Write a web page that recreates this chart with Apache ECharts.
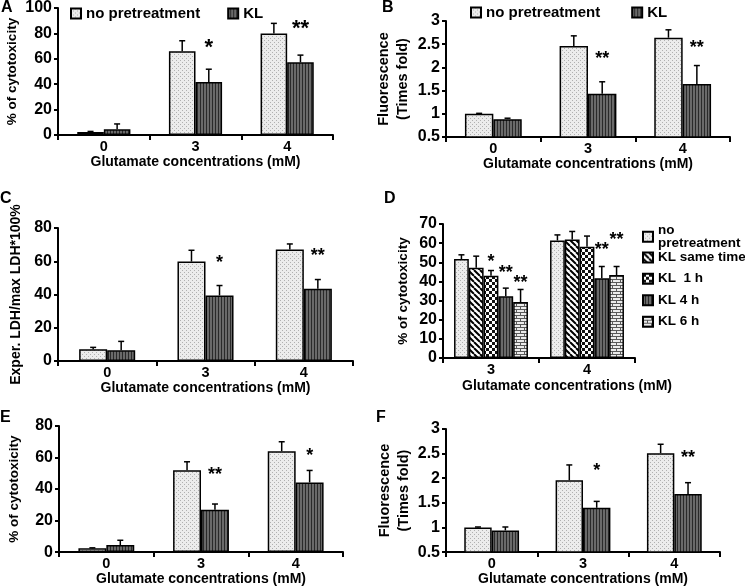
<!DOCTYPE html>
<html>
<head>
<meta charset="utf-8">
<script src="https://cdn.jsdelivr.net/npm/echarts@6/dist/echarts.min.js"></script>
<style>
html, body { margin: 0; padding: 0; background: #fff; }
#chart { width: 745px; height: 587px; }
</style>
</head>
<body>
<div id="chart"></div>
<script>
// categories
const cats = ['0', '3', '4'];
const catsD = ['3', '4'];

// A - % of cytotoxicity
const aNoPre = [2.4, 66, 80];
const aNoPreErr = [0.4, 8.2, 7.9];
const aKL = [4.5, 41.8, 57.2];
const aKLErr = [4.2, 10, 5.7];
const aSig = ['', '*', '**'];
const aSigY = [0, 72, 87];

// B - fluorescence
const bNoPre = [1.0, 2.46, 2.64];
const bNoPreErr = [0.01, 0.22, 0.17];
const bKL = [0.885, 1.43, 1.64];
const bKLErr = [0.02, 0.26, 0.4];
const bSig = ['', '**', '**'];
const bSigY = [0, 2.26, 2.51];

// C - LDH
const cNoPre = [7.0, 59.8, 67];
const cNoPreErr = [1.2, 6.8, 3.4];
const cKL = [6.4, 39.4, 43.4];
const cKLErr = [5.4, 6, 5.6];
const cSig = ['', '*', '**'];
const cSigY = [0, 61.6, 65.6];

// D - timing of KL
const dNoPre = [51.7, 61.4];
const dNoPreErr = [2.2, 2.9];
const dSame = [47.1, 61.9];
const dSameErr = [6.1, 4.2];
const d1h = [43.0, 58.1];
const d1hErr = [2.7, 5.6];
const d4h = [32.2, 41.6];
const d4hErr = [4.3, 6.2];
const d6h = [29.2, 43.3];
const d6hErr = [6.6, 4.5];
const d1hSig = ['*', ''];
const d1hSigY = [52.3, 0];
const d4hSig = ['**', '**'];
const d4hSigY = [46.3, 58.3];
const d6hSig = ['**', '**'];
const d6hSigY = [41.4, 63.7];

// E - % of cytotoxicity
const eNoPre = [2.4, 52, 64];
const eNoPreErr = [0.3, 5.3, 6];
const eKL = [4.5, 26.8, 44.2];
const eKLErr = [3, 3.7, 7.6];
const eSig = ['', '**', '*'];
const eSigY = [0, 51.3, 63.5];

// F - fluorescence
const fNoPre = [1.0, 1.96, 2.51];
const fNoPreErr = [0.01, 0.31, 0.18];
const fKL = [0.94, 1.40, 1.68];
const fKLErr = [0.07, 0.13, 0.23];
const fSig = ['', '*', '**'];
const fSigY = [0, 2.23, 2.5];

const FONT = '"Liberation Sans", Arial, sans-serif';
const xTitle = 'Glutamate concentrations (mM)';

function pattern(w, h, draw) {
    let c = document.createElement('canvas');
    c.width = w;
    c.height = h;
    draw(c.getContext('2d'));
    return { image: c, repeat: 'repeat' };
}
let dotFill = pattern(4, 4, function (ctx) {
    ctx.fillStyle = '#ececec'; ctx.fillRect(0, 0, 4, 4);
    ctx.fillStyle = '#b0b0b0'; ctx.fillRect(0, 0, 1, 1); ctx.fillRect(2, 2, 1, 1);
});
let stripeFill = pattern(3, 3, function (ctx) {
    ctx.fillStyle = '#6a6a6a'; ctx.fillRect(0, 0, 3, 3);
    ctx.fillStyle = '#2a2a2a'; ctx.fillRect(2, 0, 1, 3);
});
let diagFill = pattern(6, 6, function (ctx) {
    ctx.fillStyle = '#fff'; ctx.fillRect(0, 0, 6, 6);
    ctx.strokeStyle = '#000'; ctx.lineWidth = 2;
    ctx.beginPath();
    for (let k = -6; k <= 6; k += 6) { ctx.moveTo(k, 0); ctx.lineTo(k + 6, 6); }
    ctx.stroke();
});
let checkFill = pattern(6, 6, function (ctx) {
    ctx.fillStyle = '#fff'; ctx.fillRect(0, 0, 6, 6);
    ctx.fillStyle = '#111'; ctx.fillRect(0, 0, 3, 3); ctx.fillRect(3, 3, 3, 3);
});
let brickFill = pattern(8, 6, function (ctx) {
    ctx.fillStyle = '#ececec'; ctx.fillRect(0, 0, 8, 6);
    ctx.fillStyle = '#5a5a5a';
    ctx.fillRect(0, 0, 8, 1); ctx.fillRect(0, 3, 8, 1);
    ctx.fillRect(0, 0, 1, 3); ctx.fillRect(4, 3, 1, 3);
});

function bar(name, data, fill, g, gap) {
    return {
        type: 'bar', name: name, data: data,
        xAxisIndex: g, yAxisIndex: g,
        barGap: '0%', barCategoryGap: (gap * 100) + '%',
        itemStyle: { color: fill, borderColor: '#000', borderWidth: 1.5 },
        emphasis: { disabled: true },
        z: 2
    };
}

function errBars(vals, errs, g, pos, n, gap) {
    return {
        type: 'custom', xAxisIndex: g, yAxisIndex: g, z: 3, silent: true,
        data: vals.map(function (v, i) { return [i, v, errs[i]]; }),
        renderItem: function (params, api) {
            let i = api.value(0), v = api.value(1), e = api.value(2);
            let p0 = api.coord([i, v]), p1 = api.coord([i, v + e]);
            let bw = api.size([1, 0])[0] * (1 - gap) / n;
            let cx = p0[0] + (pos - (n - 1) / 2) * bw;
            let st = { stroke: '#000', lineWidth: 1.5 };
            return {
                type: 'group', children: [
                    { type: 'line', shape: { x1: cx, y1: p0[1], x2: cx, y2: p1[1] }, style: st },
                    { type: 'line', shape: { x1: cx - 3, y1: p1[1], x2: cx + 3, y2: p1[1] }, style: st }
                ]
            };
        }
    };
}

function stars(labels, ys, g, pos, n, gap, size) {
    return {
        type: 'custom', xAxisIndex: g, yAxisIndex: g, z: 4, silent: true,
        data: ys.map(function (y, i) { return [i, y]; }),
        renderItem: function (params, api) {
            let s = labels[params.dataIndex];
            if (!s) return null;
            let p = api.coord([api.value(0), api.value(1)]);
            let bw = api.size([1, 0])[0] * (1 - gap) / n;
            let cx = p[0] + (pos - (n - 1) / 2) * bw;
            return {
                type: 'text', x: cx, y: p[1] + size * 0.22,
                style: { text: s, fill: '#000', font: 'bold ' + size + 'px ' + FONT, align: 'center', verticalAlign: 'middle' }
            };
        }
    };
}

function xAx(g, data, gap, shift) {
    return {
        type: 'category', gridIndex: g, data: data,
        axisLine: { lineStyle: { color: '#000', width: 2 } },
        axisTick: { show: true, length: 5, lineStyle: { color: '#000', width: 2 } },
        axisLabel: { color: '#000', fontWeight: 'bold', fontSize: 14.5, fontFamily: FONT, margin: 4 },
        name: xTitle, nameLocation: 'middle', nameGap: gap,
        nameTextStyle: { color: '#000', fontWeight: 'bold', fontSize: 14, fontFamily: FONT, padding: [0, 0, 0, shift || 0] }
    };
}

function yAx(g, min, max, interval, name, gap, size) {
    return {
        type: 'value', gridIndex: g, min: min, max: max, interval: interval,
        axisLine: { show: true, lineStyle: { color: '#000', width: 2 } },
        axisTick: { show: true, length: 4, lineStyle: { color: '#000', width: 2 } },
        splitLine: { show: false },
        axisLabel: { color: '#000', fontWeight: 'bold', fontSize: 16, fontFamily: FONT, margin: 6 },
        name: name, nameLocation: 'middle', nameGap: gap,
        nameTextStyle: { color: '#000', fontWeight: 'bold', fontSize: size, fontFamily: FONT, lineHeight: size + 4 }
    };
}

function letter(t, x, y) {
    return {
        type: 'text', x: x, y: y,
        style: { text: t, fill: '#000', font: 'bold 16px ' + FONT, verticalAlign: 'middle' }
    };
}

const gapA = 0.42, gapB = 0.4, gapC = 0.43, gapD = 0.23, gapE = 0.41, gapF = 0.4;

let legendText = { color: '#000', fontWeight: 'bold', fontFamily: FONT };

let option = {
    backgroundColor: '#fff',
    animation: false,
    graphic: [
        letter('A', 1, 8), letter('B', 382, 8),
        letter('C', 0, 199), letter('D', 384, 199),
        letter('E', 0, 418), letter('F', 376, 418)
    ],
    legend: [
        {
            left: 65, top: 1, itemWidth: 10, itemHeight: 10, itemGap: 27, icon: 'rect', selectedMode: false,
            data: ['no pretreatment', 'KL'],
            textStyle: Object.assign({ fontSize: 15 }, legendText)
        },
        {
            left: 465, top: 0, itemWidth: 10, itemHeight: 10, itemGap: 31, icon: 'rect', selectedMode: false,
            data: ['no pretreatment', 'KL'],
            textStyle: Object.assign({ fontSize: 15 }, legendText)
        },
        {
            orient: 'vertical', left: 637, top: 218, itemWidth: 10, itemHeight: 10, itemGap: 0, icon: 'rect', selectedMode: false,
            data: ['no pretreatment', 'KL same time'],
            formatter: function (name) { return name === 'no pretreatment' ? 'no\npretreatment' : name; },
            textStyle: Object.assign({ fontSize: 13.5, lineHeight: 13.5 }, legendText)
        },
        {
            orient: 'vertical', left: 637, top: 263, itemWidth: 10, itemHeight: 10, itemGap: 0, icon: 'rect', selectedMode: false,
            data: ['KL  1 h', 'KL 4 h', 'KL 6 h'],
            textStyle: Object.assign({ fontSize: 13.5, lineHeight: 21.5 }, legendText)
        }
    ],
    grid: [
        { left: 58, top: 8, width: 275, height: 127 },
        { left: 446, top: 21, width: 284, height: 116 },
        { left: 58, top: 228, width: 295, height: 133 },
        { left: 443, top: 224, width: 192, height: 134 },
        { left: 59, top: 426, width: 284, height: 131 },
        { left: 446, top: 429, width: 274, height: 124 }
    ],
    xAxis: [
        xAx(0, cats, 20),
        xAx(1, cats, 17),
        xAx(2, cats, 19),
        xAx(3, catsD, 21, 56),
        xAx(4, cats, 13),
        xAx(5, cats, 18)
    ],
    yAxis: [
        yAx(0, 0, 100, 20, '% of cytotoxicity', 35, 13.5),
        yAx(1, 0.5, 3, 0.5, 'Fluorescence\n(Times fold)', 34, 14.5),
        yAx(2, 0, 80, 20, 'Exper. LDH/max LDH*100%', 33, 14),
        yAx(3, 0, 70, 10, '% of cytotoxicity', 31, 13.5),
        yAx(4, 0, 80, 20, '% of cytotoxicity', 36, 13.5),
        yAx(5, 0.5, 3, 0.5, 'Fluorescence\n(Times fold)', 33, 14.5)
    ],
    series: [
        // A
        bar('no pretreatment', aNoPre, dotFill, 0, gapA),
        bar('KL', aKL, stripeFill, 0, gapA),
        errBars(aNoPre, aNoPreErr, 0, 0, 2, gapA),
        errBars(aKL, aKLErr, 0, 1, 2, gapA),
        stars(aSig, aSigY, 0, 1, 2, gapA, 22),
        // B
        bar('no pretreatment', bNoPre, dotFill, 1, gapB),
        bar('KL', bKL, stripeFill, 1, gapB),
        errBars(bNoPre, bNoPreErr, 1, 0, 2, gapB),
        errBars(bKL, bKLErr, 1, 1, 2, gapB),
        stars(bSig, bSigY, 1, 1, 2, gapB, 18),
        // C
        bar('no pretreatment', cNoPre, dotFill, 2, gapC),
        bar('KL', cKL, stripeFill, 2, gapC),
        errBars(cNoPre, cNoPreErr, 2, 0, 2, gapC),
        errBars(cKL, cKLErr, 2, 1, 2, gapC),
        stars(cSig, cSigY, 2, 1, 2, gapC, 18),
        // D
        bar('no pretreatment', dNoPre, dotFill, 3, gapD),
        bar('KL same time', dSame, diagFill, 3, gapD),
        bar('KL  1 h', d1h, checkFill, 3, gapD),
        bar('KL 4 h', d4h, stripeFill, 3, gapD),
        bar('KL 6 h', d6h, brickFill, 3, gapD),
        errBars(dNoPre, dNoPreErr, 3, 0, 5, gapD),
        errBars(dSame, dSameErr, 3, 1, 5, gapD),
        errBars(d1h, d1hErr, 3, 2, 5, gapD),
        errBars(d4h, d4hErr, 3, 3, 5, gapD),
        errBars(d6h, d6hErr, 3, 4, 5, gapD),
        stars(d1hSig, d1hSigY, 3, 2, 5, gapD, 18),
        stars(d4hSig, d4hSigY, 3, 3, 5, gapD, 18),
        stars(d6hSig, d6hSigY, 3, 4, 5, gapD, 18),
        // E
        bar('no pretreatment', eNoPre, dotFill, 4, gapE),
        bar('KL', eKL, stripeFill, 4, gapE),
        errBars(eNoPre, eNoPreErr, 4, 0, 2, gapE),
        errBars(eKL, eKLErr, 4, 1, 2, gapE),
        stars(eSig, eSigY, 4, 1, 2, gapE, 18),
        // F
        bar('no pretreatment', fNoPre, dotFill, 5, gapF),
        bar('KL', fKL, stripeFill, 5, gapF),
        errBars(fNoPre, fNoPreErr, 5, 0, 2, gapF),
        errBars(fKL, fKLErr, 5, 1, 2, gapF),
        stars(fSig, fSigY, 5, 1, 2, gapF, 18)
    ]
};

let myChart = echarts.init(document.getElementById('chart'), null, { renderer: 'canvas' });
myChart.setOption(option);
</script>
</body>
</html>
